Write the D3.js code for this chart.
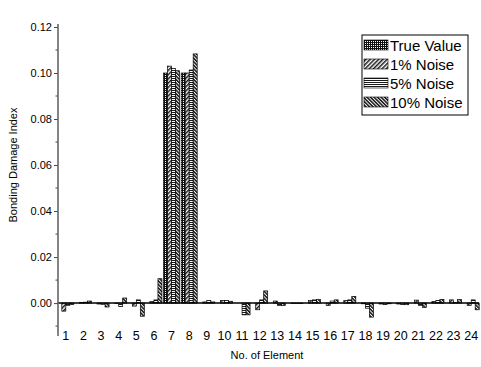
<!DOCTYPE html>
<html>
<head>
<meta charset="utf-8">
<script src="https://cdn.jsdelivr.net/npm/d3@7"></script>
<style>
  html, body { margin: 0; padding: 0; background: #fff; }
  svg { display: block; font-family: "Liberation Sans", Arial, sans-serif; }
</style>
</head>
<body>
<svg id="chart" width="481" height="367"></svg>
<script>
// Element numbers along the x axis
const elements = d3.range(1, 25);

// Bonding damage index per element for each case
const trueValue = [0, 0, 0, 0, 0, 0, 0.1000, 0.1000, 0, 0, 0, 0,
                   0, 0, 0, 0, 0, 0, 0, 0, 0, 0, 0, 0];
const noise1 = [-0.0035, 0.0003, -0.0004, -0.0002, -0.0013, 0.0007, 0.1030, 0.1000,
                0.0005, 0.0011, 0, -0.0029, 0.0009, -0.0002, 0.0011, -0.0010,
                0.0011, -0.0003, -0.0004, -0.0004, 0.0013, 0.0007, 0.0014, -0.0010];
const noise5 = [-0.0010, 0.0004, -0.0005, -0.0015, 0.0014, 0.0014, 0.1019, 0.1013,
                0.0011, 0.0011, -0.0051, 0.0014, -0.0010, -0.0002, 0.0014, 0.0009,
                0.0014, -0.0022, -0.0006, -0.0006, -0.0010, 0.0012, 0.0002, 0.0014];
const noise10 = [-0.0006, 0.0009, -0.0017, 0.0022, -0.0057, 0.0106, 0.1010, 0.1083,
                 0.0005, 0.0008, -0.0051, 0.0053, -0.0010, -0.0002, 0.0015, 0.0014,
                 0.0029, -0.0061, -0.0003, -0.0007, -0.0019, 0.0016, 0.0015, -0.0029];

const seriesNames = ["True Value", "1% Noise", "5% Noise", "10% Noise"];
const seriesValues = [trueValue, noise1, noise5, noise10];

const yMajorTicks = [0.00, 0.02, 0.04, 0.06, 0.08, 0.10, 0.12];
const yMinorTicks = [-0.01, 0.01, 0.03, 0.05, 0.07, 0.09, 0.11];

const svg = d3.select("#chart");

// Hatch fills for the four series
const defs = svg.append("defs");
const patTrue = defs.append("pattern").attr("id", "pat0")
  .attr("patternUnits", "userSpaceOnUse").attr("width", 2).attr("height", 2);
patTrue.append("rect").attr("width", 2).attr("height", 2).attr("fill", "#fff");
patTrue.append("rect").attr("width", 2).attr("height", 1).attr("fill", "#111");
patTrue.append("rect").attr("width", 1).attr("height", 2).attr("fill", "#111");

const pat1 = defs.append("pattern").attr("id", "pat1")
  .attr("patternUnits", "userSpaceOnUse").attr("width", 3).attr("height", 3)
  .attr("patternTransform", "rotate(45)");
pat1.append("rect").attr("width", 3).attr("height", 3).attr("fill", "#fff");
pat1.append("rect").attr("width", 1.5).attr("height", 3).attr("fill", "#1a1a1a");

const pat5 = defs.append("pattern").attr("id", "pat2")
  .attr("patternUnits", "userSpaceOnUse").attr("width", 3).attr("height", 2);
pat5.append("rect").attr("width", 3).attr("height", 2).attr("fill", "#fff");
pat5.append("rect").attr("width", 3).attr("height", 1).attr("fill", "#1a1a1a");

const pat10 = defs.append("pattern").attr("id", "pat3")
  .attr("patternUnits", "userSpaceOnUse").attr("width", 2.5).attr("height", 2.5)
  .attr("patternTransform", "rotate(-45)");
pat10.append("rect").attr("width", 2.5).attr("height", 2.5).attr("fill", "#fff");
pat10.append("rect").attr("width", 1.5).attr("height", 2.5).attr("fill", "#111");

// Scales
const x = d3.scaleLinear().domain([0.5, 24.5]).range([57, 480]);
const y = d3.scaleLinear().domain([-0.0143, 0.1213]).range([336, 24]);

const barW = 4;

// Bars
seriesValues.forEach((vals, s) => {
  svg.append("g")
    .selectAll("rect")
    .data(elements.map((e, i) => ({ e, v: vals[i] })))
    .join("rect")
    .attr("x", d => x(d.e) - 2 * barW + s * barW)
    .attr("width", barW)
    .attr("y", d => Math.min(y(d.v), y(0)))
    .attr("height", d => Math.abs(y(d.v) - y(0)))
    .attr("fill", `url(#pat${s})`)
    .attr("stroke", "#000")
    .attr("stroke-width", 0.7);
});

// Zero line
svg.append("line")
  .attr("x1", x(0.5)).attr("x2", 479)
  .attr("y1", y(0)).attr("y2", y(0))
  .attr("stroke", "#000").attr("stroke-width", 1.5);

// Y axis with major and minor ticks
const yAxis = svg.append("g").attr("transform", `translate(58,0)`);
yAxis.call(d3.axisLeft(y).tickValues(yMajorTicks).tickFormat(d3.format(".2f"))
  .tickSize(4).tickPadding(2));
yAxis.call(g => g.select(".domain").remove());
yAxis.selectAll(".tick line").attr("stroke", "#444").attr("stroke-width", 1);
yAxis.selectAll(".tick text").attr("font-size", 11).attr("fill", "#000")
  .attr("font-family", "Liberation Sans, Arial, sans-serif");
yAxis.selectAll(".minor").data(yMinorTicks).join("line")
  .attr("class", "minor")
  .attr("x1", -2.5).attr("x2", 0)
  .attr("y1", d => y(d)).attr("y2", d => y(d))
  .attr("stroke", "#444");
yAxis.append("line")
  .attr("x1", 0).attr("x2", 0)
  .attr("y1", y.range()[1]).attr("y2", y.range()[0])
  .attr("stroke", "#666").attr("stroke-width", 1.6);

// Element labels under the axis
svg.append("g").selectAll("text")
  .data(elements).join("text")
  .attr("x", d => x(d))
  .attr("y", 340)
  .attr("text-anchor", "middle")
  .attr("font-size", 12.5)
  .text(d => d);

// Axis titles
svg.append("text")
  .attr("x", 267).attr("y", 359)
  .attr("text-anchor", "middle")
  .attr("font-size", 11)
  .text("No. of Element");

svg.append("text")
  .attr("transform", "translate(17,165) rotate(-90)")
  .attr("text-anchor", "middle")
  .attr("font-size", 11)
  .text("Bonding Damage Index");

// Legend
const legend = svg.append("g");
legend.append("rect")
  .attr("x", 362).attr("y", 35).attr("width", 106).attr("height", 80)
  .attr("fill", "#fff").attr("stroke", "#000").attr("stroke-width", 1);
seriesNames.forEach((name, s) => {
  const cy = 45 + s * 19;
  legend.append("rect")
    .attr("x", 364).attr("y", cy - 5).attr("width", 24).attr("height", 10)
    .attr("fill", `url(#pat${s})`).attr("stroke", "#000").attr("stroke-width", 0.6);
  legend.append("text")
    .attr("x", 390).attr("y", cy + 5.5)
    .attr("font-size", 15)
    .text(name);
});
</script>
</body>
</html>
